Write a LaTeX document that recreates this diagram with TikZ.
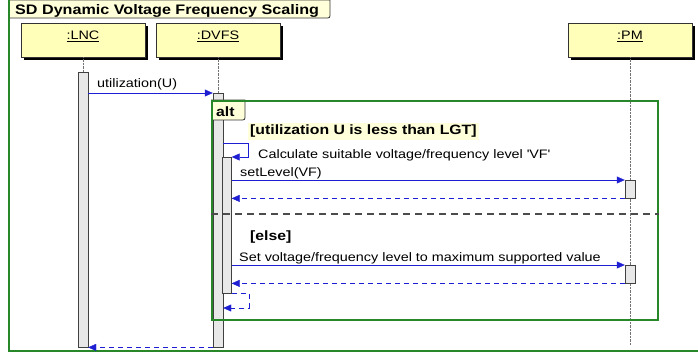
\documentclass[tikz,border=0pt]{standalone}
\usepackage{fontspec}
\setmainfont{Liberation Sans}[FakeStretch=1.17]
\usetikzlibrary{arrows.meta,shadows}
\definecolor{headfill}{RGB}{255,255,185}
\definecolor{actfill}{RGB}{232,232,232}
\definecolor{msgblue}{RGB}{30,30,210}
\definecolor{framegreen}{RGB}{40,135,40}
\definecolor{guardfill}{RGB}{255,255,218}

\begin{document}
\begin{tikzpicture}[x=1pt,y=-1pt,
every node/.style={font=\fontsize{12.3}{14}\selectfont,inner sep=2pt},
head/.style={draw=black!80,fill=headfill,minimum width=124pt,minimum height=34pt,
  text height=9pt,text depth=9pt,
  drop shadow={shadow xshift=3pt,shadow yshift=-3pt,fill=black,opacity=1}},
act/.style={draw=black!75,fill=actfill,minimum width=10pt,inner sep=0pt,anchor=north},
life/.style={draw=black!55,densely dotted},
msg/.style={draw=msgblue,-{Triangle[length=8pt,width=7pt]}},
ret/.style={msg,dash pattern=on 5pt off 4pt},
lbl/.style={anchor=base west},
guard/.style={lbl,font=\fontsize{13.5}{15}\selectfont\bfseries},
greenline/.style={draw=framegreen,line width=2pt},
tabfill/.style={draw=black!80,fill=guardfill,line width=.8pt},
sepline/.style={draw=black!70,line width=1.6pt,dash pattern=on 7pt off 5pt}
]
\useasboundingbox (0,0) rectangle (698,358);

\draw[tabfill] (9,0) -- (330,0) -- (330,13) .. controls (330,18) .. (325,18) -- (9,18);
\draw[greenline] (9,-5) rectangle (720,351);
\node[lbl,font=\fontsize{13.8}{16}\selectfont\bfseries] (title) at (13,15) {SD Dynamic Voltage Frequency Scaling};

\node[head] (lnc) at (83,40) {\underline{:LNC}};
\node[head] (dvfs) at (218,40) {\underline{:DVFS}};
\node[head] (pm) at (630,40) {\underline{:PM}};

\coordinate (pmEnd) at (630,345);
\draw[life] (pm) -- (pmEnd);

\node[act,minimum height=275pt] (lncA) at (83,72) {};
\node[act,minimum height=254pt] (dvfsA) at (218,93) {};
\node[act,minimum width=9pt,minimum height=136pt] (dvfsB) at (227,157) {};
\node[act,minimum height=18pt] (pmA1) at (630,180) {};
\node[act,minimum height=18pt] (pmA2) at (630,265) {};

\draw[life] (lnc) -- (lncA);
\draw[life] (dvfs) -- (dvfsA);

\draw[tabfill] (211,100) -- (245,100) -- (245,115) .. controls (245,120) .. (240,120) -- (211,120);
\node[greenline,anchor=north west,minimum width=446pt,minimum height=219pt,inner sep=0pt] (alt) at (211,100) {};
\node[lbl,font=\fontsize{13.5}{15}\selectfont\bfseries] (altName) at (214,117) {alt};

\coordinate (altSplit) at (0,214);
\draw[sepline] (alt.west |- altSplit) -- (alt.east |- altSplit);

\node[guard,fill=guardfill] (g1) at (248,135) {[utilization U is less than LGT]};
\node[guard] (g2) at (248,240) {[else]};

\draw[msg] (lncA.east |- dvfsA.north) -- (dvfsA.north west);
\node[lbl] (lblU) at (95,88) {utilization(U)};

\coordinate (callTop) at (0,143);
\draw[msg] (dvfsA.east |- callTop) -- ++(25,0) |- (dvfsB.north east);
\node[lbl] (lblCalc) at (256,159) {Calculate suitable voltage/frequency level \textquotesingle VF\textquotesingle};

\draw[msg] (dvfsB.east |- pmA1.north) -- (pmA1.north west);
\node[lbl] (lblSet) at (238,176) {setLevel(VF)};
\draw[ret] (pmA1.south west) -- (dvfsB.east |- pmA1.south);

\draw[msg] (dvfsB.east |- pmA2.north) -- (pmA2.north west);
\node[lbl] (lblMax) at (237,261) {Set voltage/frequency level to maximum supported value};
\draw[ret] (pmA2.south west) -- (dvfsB.east |- pmA2.south);

\coordinate (backIn) at (0,308);
\draw[ret] (dvfsB.south east) -- ++(17,0) |- (dvfsA.east |- backIn);
\draw[ret] (dvfsA.south west) -- (lncA.south east);

\end{tikzpicture}
\end{document}
